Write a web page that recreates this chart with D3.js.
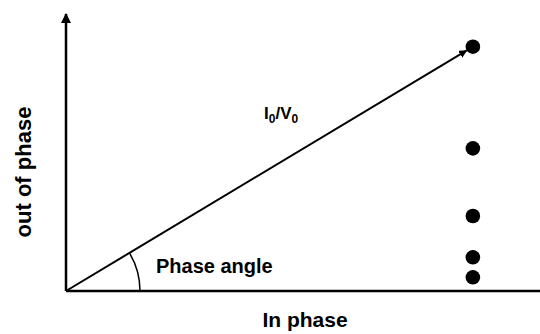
<!DOCTYPE html>
<html>
<head>
<meta charset="utf-8">
<script src="https://cdn.jsdelivr.net/npm/d3@7"></script>
<style>
  body { margin: 0; background: #fff; }
  text { font-family: "Liberation Sans", Arial, sans-serif; font-weight: bold; fill: #000; }
</style>
</head>
<body>
<svg width="540" height="334"></svg>
<script>
// admittance vector (in phase, out of phase) and the measured points
let vector = { inPhase: 1.0, outPhase: 1.0 }
let inPhaseVals = [1.0, 1.0, 1.0, 1.0, 1.0]
let outPhaseVals = [1.0, 0.584, 0.307, 0.138, 0.056]

let origin = { x: 66, y: 291 }
let svg = d3.select("svg")

let x = d3.scaleLinear().domain([0, 1.165]).range([origin.x, 540])
let y = d3.scaleLinear().domain([0, 1.138]).range([origin.y, 13])

let defs = svg.append("defs")
defs.append("marker")
    .attr("id", "head")
    .attr("viewBox", "0 0 10 10")
    .attr("refX", 9).attr("refY", 5)
    .attr("markerWidth", 4).attr("markerHeight", 4)
    .attr("markerUnits", "strokeWidth")
    .attr("orient", "auto")
    .append("path")
    .attr("d", "M0,0 L10,5 L0,10 z")
    .attr("fill", "#000")

// x axis
svg.append("line")
    .attr("x1", x(0)).attr("y1", y(0))
    .attr("x2", x(1.165)).attr("y2", y(0))
    .attr("stroke", "#000").attr("stroke-width", 2.5)

// y axis with arrow
svg.append("line")
    .attr("x1", x(0)).attr("y1", y(0))
    .attr("x2", x(0)).attr("y2", y(1.138) + 1)
    .attr("stroke", "#000").attr("stroke-width", 2.5)
    .attr("marker-end", "url(#head)")

// vector line, ending at the dot edge
let vx = x(vector.inPhase), vy = y(vector.outPhase)
let ang = Math.atan2(origin.y - vy, vx - origin.x)
let r = 7.5
svg.append("line")
    .attr("x1", x(0)).attr("y1", y(0))
    .attr("x2", vx - r * Math.cos(ang)).attr("y2", vy + r * Math.sin(ang))
    .attr("stroke", "#000").attr("stroke-width", 2)
    .attr("marker-end", "url(#head)")

// phase angle arc
let arc = d3.arc()
    .innerRadius(74).outerRadius(74)
    .startAngle(Math.PI / 2 - ang).endAngle(Math.PI / 2)
svg.append("path")
    .attr("transform", "translate(" + origin.x + "," + origin.y + ")")
    .attr("d", arc)
    .attr("fill", "none")
    .attr("stroke", "#000").attr("stroke-width", 1.5)

// points
svg.selectAll(".dot")
    .data(outPhaseVals)
    .enter().append("circle")
    .attr("class", "dot")
    .attr("cx", (d, i) => x(inPhaseVals[i]))
    .attr("cy", d => y(d))
    .attr("r", 7.3)
    .attr("fill", "#000")

// labels
svg.append("text")
    .attr("x", 156).attr("y", 273)
    .style("font-size", "20px")
    .text("Phase angle")

let lbl = svg.append("text")
    .attr("x", 264).attr("y", 119)
    .style("font-size", "17px")
lbl.append("tspan").text("I")
lbl.append("tspan").attr("dy", 4).style("font-size", "12px").text("0")
lbl.append("tspan").attr("dy", -4).text("/V")
lbl.append("tspan").attr("dy", 4).style("font-size", "12px").text("0")

svg.append("text")
    .attr("x", 305).attr("y", 327)
    .attr("text-anchor", "middle")
    .style("font-size", "21px")
    .text("In phase")

svg.append("text")
    .attr("transform", "translate(31,172) rotate(-90)")
    .attr("text-anchor", "middle")
    .style("font-size", "22px")
    .text("out of phase")
</script>
</body>
</html>
